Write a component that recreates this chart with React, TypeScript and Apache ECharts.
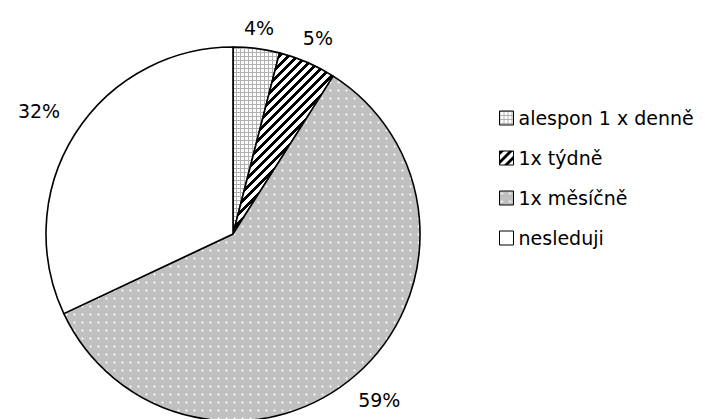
import React, { useEffect, useRef } from "react";
import * as echarts from "echarts";

const categories = ["alespon 1 x denně", "1x týdně", "1x měsíčně", "nesleduji"];
const values = [4, 5, 59, 32];

const CX = 233;
const CY = 234;
const RADIUS = 187;

function makeTile(size: number, pixel: (x: number, y: number) => string) {
  const c = document.createElement("canvas");
  c.width = size;
  c.height = size;
  const ctx = c.getContext("2d")!;
  for (let y = 0; y < size; y++) {
    for (let x = 0; x < size; x++) {
      ctx.fillStyle = pixel(x, y);
      ctx.fillRect(x, y, 1, 1);
    }
  }
  return { image: c, repeat: "repeat", imageWidth: size, imageHeight: size } as any;
}

export default function App() {
  const ref = useRef<HTMLDivElement>(null);

  useEffect(() => {
    if (!ref.current) return;
    const chart = echarts.init(ref.current, undefined, { renderer: "svg" });

    const gridPat = makeTile(4, (x, y) => (x === 0 || y === 0 ? "#b0b0b0" : "#ffffff"));
    const stripePat = makeTile(9, (x, y) => ((x + y) % 9 < 4 ? "#000000" : "#ffffff"));
    const dotPat = makeTile(8, (x, y) => {
      if (x === 2 && y === 2) return "#ffffff";
      if ((x === 1 && y === 2) || (x === 3 && y === 2) || (x === 2 && y === 1) || (x === 2 && y === 3)) return "#e4e4e4";
      return "#c0c0c0";
    });
    const fills = [gridPat, stripePat, dotPat, "#ffffff"];

    const total = values.reduce((a, b) => a + b, 0);

    chart.setOption({
      animation: false,
      backgroundColor: "#ffffff",
      legend: {
        orient: "vertical",
        left: 494,
        top: 103,
        itemWidth: 14,
        itemHeight: 14,
        itemGap: 20,
        icon: "rect",
        selectedMode: false,
        data: categories,
        textStyle: {
          fontFamily: "DejaVu Sans",
          fontSize: 19,
          lineHeight: 20,
          color: "#000000",
        },
        itemStyle: { borderColor: "#000000", borderWidth: 1 },
      },
      series: [
        {
          type: "pie",
          center: [CX, CY],
          radius: RADIUS,
          startAngle: 90,
          clockwise: true,
          avoidLabelOverlap: false,
          silent: true,
          data: categories.map((name, i) => ({
            name,
            value: values[i],
            itemStyle: { color: fills[i] },
          })),
          itemStyle: { borderColor: "#000000", borderWidth: 1.6 },
          label: {
            show: true,
            position: "outside",
            formatter: (p: any) => Math.round(p.percent) + "%",
            fontFamily: "DejaVu Sans",
            fontSize: 19,
            color: "#000000",
          },
          labelLine: { show: false },
          labelLayout: (params: any) => {
            const i = params.dataIndex;
            let cum = 0;
            for (let j = 0; j < i; j++) cum += values[j];
            const mid = ((cum + values[i] / 2) / total) * Math.PI * 2;
            const dx = Math.sin(mid);
            const dy = -Math.cos(mid);
            const hw = params.labelRect.width / 2;
            const hh = params.labelRect.height / 2;
            const px = Math.abs(dx) > 1e-6 ? hw / Math.abs(dx) : Infinity;
            const py = Math.abs(dy) > 1e-6 ? hh / Math.abs(dy) : Infinity;
            const gap = 9 + 19 * Math.abs(dx);
            const d = RADIUS + gap + Math.min(px, py);
            return { x: CX + d * dx, y: CY + d * dy, align: "center", verticalAlign: "middle" };
          },
        },
      ],
    });

    return () => chart.dispose();
  }, []);

  return (
    <div
      ref={ref}
      style={{ position: "fixed", left: 0, top: 0, width: 724, height: 419, background: "#fff" }}
    />
  );
}
